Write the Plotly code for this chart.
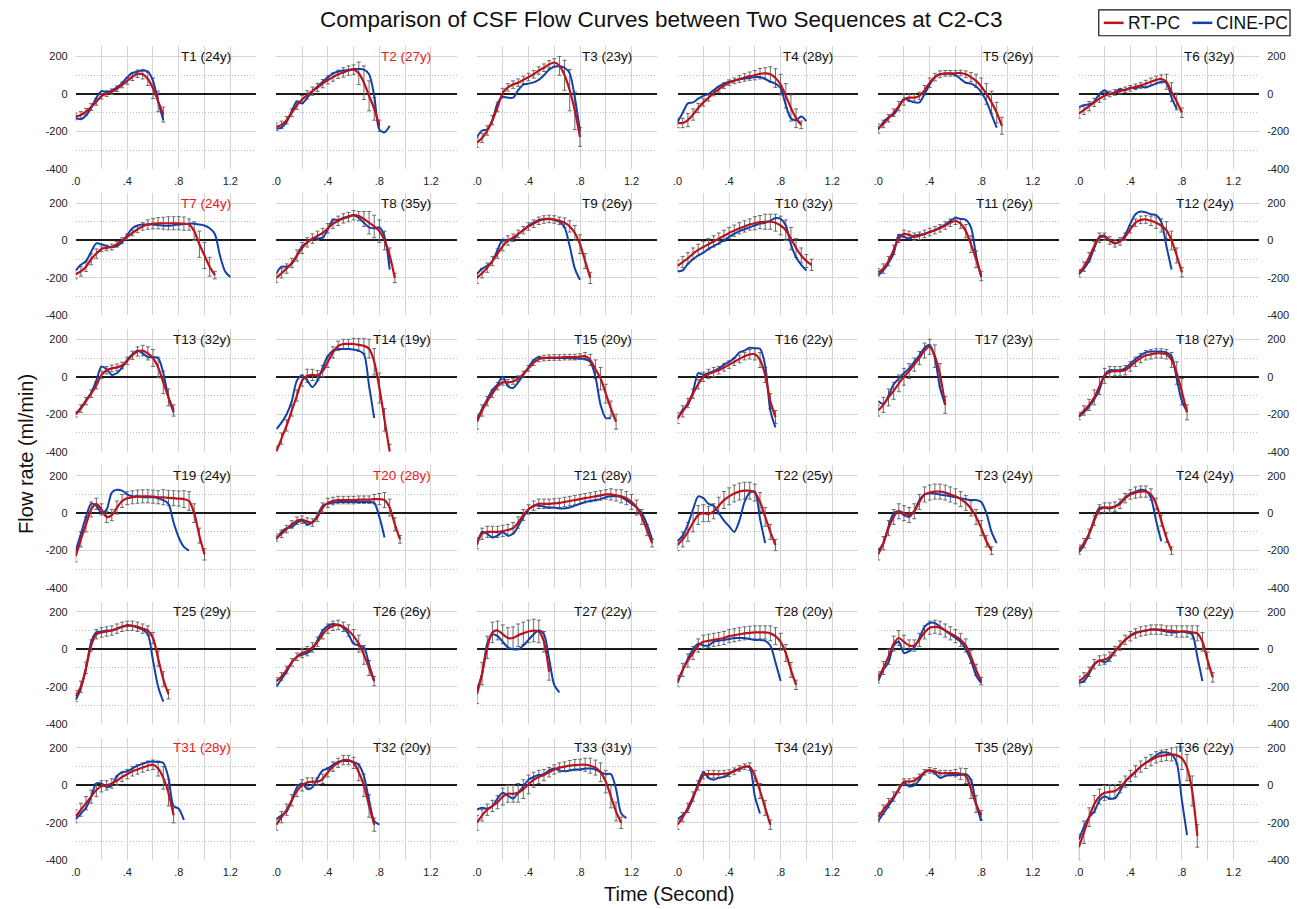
import plotly.graph_objects as go

# ---------------- data ----------------
TIME = [0.00, 0.04, 0.08, 0.12, 0.16, 0.20, 0.24, 0.28, 0.32, 0.36, 0.40, 0.44,
        0.48, 0.52, 0.56, 0.60, 0.64, 0.68, 0.72, 0.76, 0.80, 0.84, 0.88, 0.92,
        0.96, 1.00, 1.04, 1.08, 1.12, 1.16, 1.20, 1.24, 1.28, 1.32, 1.36, 1.40]

SUBJECTS = ["T%d" % k for k in range(1, 37)]
AGES = [24, 27, 23, 28, 26, 32, 24, 35, 26, 32, 26, 24, 32, 19, 20, 22, 23, 27,
        24, 28, 28, 25, 24, 24, 29, 26, 22, 20, 28, 22, 28, 20, 31, 21, 28, 22]
HIGHLIGHT = ["T2", "T7", "T20", "T31"]
SERIES = ["RT-PC", "CINE-PC"]

X_TICKS = [0.0, 0.2, 0.4, 0.6, 0.8, 1.0, 1.2, 1.4]
X_TICKTEXT = [".0", "", ".4", "", ".8", "", "1.2", ""]
Y_TICKS = [-400, -200, 0, 200]
Y_TICKTEXT = ["-400", "-200", "0", "200"]
Y_MINOR = [-300, -100, 100]

RT_PC_MEAN = [
    [-120, -112, -95, -70, -42, -12, 2, 12, 28, 48, 70, 92, 108, 105, 80, 30, -40, -110],
    [-175, -165, -140, -100, -60, -30, -5, 15, 35, 55, 75, 90, 105, 115, 125, 130, 110, 60, -10, -80, -170],
    [-260, -235, -195, -140, -70, 5, 35, 50, 60, 75, 90, 105, 125, 140, 158, 168, 150, 100, 20, -90, -230],
    [-155, -155, -140, -110, -75, -45, -20, 5, 25, 45, 60, 70, 80, 88, 95, 100, 108, 110, 105, 85, 50, -10, -75, -130, -165],
    [-185, -160, -130, -100, -65, -30, -20, -20, -10, 20, 60, 90, 105, 110, 110, 110, 112, 105, 90, 70, 40, 0, -45, -100, -170],
    [-105, -85, -65, -45, -25, -10, 0, 8, 15, 22, 30, 38, 45, 55, 65, 75, 80, 65, 10, -40, -100],
    [-180, -165, -140, -100, -70, -45, -40, -35, -20, 0, 20, 40, 60, 75, 85, 90, 92, 92, 92, 92, 92, 90, 85, 50, -20, -80, -140, -185],
    [-200, -175, -150, -120, -80, -40, -10, 10, 25, 40, 65, 90, 105, 118, 125, 135, 130, 115, 95, 75, 50, 0, -80, -200],
    [-200, -175, -145, -110, -70, -30, 0, 15, 35, 55, 75, 90, 105, 112, 115, 112, 105, 95, 75, 40, -20, -110, -200],
    [-135, -115, -95, -70, -50, -35, -20, -5, 10, 25, 40, 52, 65, 75, 85, 92, 98, 100, 100, 95, 80, 55, 10, -40, -80, -110, -130],
    [-170, -150, -110, -50, 10, 35, 30, 20, 25, 35, 45, 55, 65, 80, 95, 105, 90, 50, -20, -100, -190],
    [-175, -140, -90, -30, 15, 20, 0, -15, -5, 20, 60, 95, 110, 112, 105, 95, 80, 55, 0, -80, -170],
    [-200, -170, -130, -90, -45, 10, 35, 45, 50, 60, 85, 115, 135, 140, 125, 100, 50, -30, -110, -180],
    [-400, -330, -260, -180, -100, -20, 5, 10, 8, 30, 80, 130, 165, 175, 175, 175, 170, 165, 150, 80, -60, -230, -400],
    [-240, -180, -130, -90, -50, -30, -30, -25, -10, 15, 45, 75, 95, 100, 102, 103, 103, 105, 105, 105, 108, 110, 90, 40, -10, -90, -170, -240],
    [-220, -185, -140, -90, -40, 0, 15, 25, 35, 50, 65, 80, 95, 110, 120, 120, 90, 10, -130, -215],
    [-180, -150, -110, -75, -35, 0, 30, 65, 100, 140, 160, 110, 10, -150],
    [-210, -180, -150, -110, -50, 5, 25, 30, 30, 35, 55, 80, 100, 115, 120, 125, 125, 120, 90, 20, -80, -190],
    [-230, -140, -60, 20, 50, 20, -20, -10, 30, 65, 80, 85, 88, 90, 90, 88, 85, 85, 82, 80, 78, 75, 65, 0, -120, -220],
    [-130, -110, -85, -60, -40, -35, -45, -50, -20, 30, 55, 65, 70, 70, 70, 70, 72, 72, 72, 75, 75, 70, 30, -60, -140],
    [-160, -110, -100, -100, -100, -95, -90, -80, -50, -10, 20, 40, 50, 50, 50, 52, 55, 60, 65, 70, 75, 80, 85, 90, 95, 100, 100, 95, 90, 80, 60, 30, -20, -90, -160],
    [-170, -140, -100, -50, -10, 0, -5, 10, 40, 70, 90, 105, 115, 120, 120, 110, 60, -20, -100, -170],
    [-220, -160, -80, -20, 10, 0, -10, 10, 60, 100, 110, 115, 115, 110, 100, 90, 75, 55, 25, -20, -80, -150, -200],
    [-195, -160, -110, -40, 20, 30, 30, 35, 50, 80, 100, 110, 115, 115, 100, 50, -40, -130, -200],
    [-250, -200, -100, 20, 80, 90, 95, 100, 110, 120, 125, 125, 120, 110, 100, 60, -50, -160, -240],
    [-170, -145, -110, -70, -40, -20, -10, 10, 40, 80, 110, 125, 130, 120, 100, 70, 30, -30, -100, -170],
    [-240, -130, 10, 90, 100, 80, 60, 60, 75, 85, 95, 100, 95, 40, -120],
    [-170, -110, -60, -20, 20, 40, 45, 50, 55, 60, 70, 75, 80, 85, 88, 90, 90, 90, 85, 70, 40, -20, -110, -190],
    [-150, -100, -40, 30, 60, 40, 20, 20, 50, 90, 115, 120, 115, 100, 85, 70, 50, 20, -40, -110, -170],
    [-170, -150, -120, -80, -60, -55, -40, -10, 20, 50, 70, 85, 95, 100, 105, 105, 105, 100, 100, 95, 95, 95, 90, 85, 40, -60, -150],
    [-165, -130, -95, -60, -25, -5, 0, 10, 25, 45, 60, 75, 85, 95, 105, 110, 90, 40, -40, -160],
    [-210, -170, -130, -80, -30, 0, 15, 20, 20, 35, 70, 100, 120, 135, 135, 120, 70, 0, -110, -210],
    [-200, -160, -130, -110, -90, -60, -45, -45, -40, -20, 5, 30, 45, 55, 70, 85, 95, 100, 105, 108, 110, 110, 105, 95, 70, 20, -60, -140, -200],
    [-210, -170, -120, -60, 0, 55, 60, 60, 60, 62, 65, 75, 90, 100, 100, 50, -30, -120, -210],
    [-170, -130, -95, -60, -20, 20, 20, 25, 45, 70, 80, 75, 65, 65, 65, 65, 62, 50, -20, -100, -160],
    [-330, -250, -170, -100, -60, -40, -35, -30, -10, 20, 50, 75, 100, 120, 135, 150, 158, 162, 165, 160, 145, 95, -30, -270],
]

RT_PC_SD = [
    [18, 18, 18, 18, 18, 15, 15, 15, 15, 15, 18, 20, 20, 25, 35, 55, 55, 40],
    [20, 20, 20, 20, 22, 22, 22, 22, 22, 22, 22, 22, 22, 25, 25, 25, 60, 90, 80, 60, 30],
    [25, 25, 25, 25, 25, 25, 20, 20, 20, 20, 20, 20, 20, 20, 20, 20, 50, 80, 110, 100, 50],
    [25, 25, 35, 30, 25, 20, 18, 15, 15, 15, 15, 15, 18, 20, 22, 25, 28, 30, 40, 50, 55, 65, 70, 50, 20],
    [25, 20, 20, 20, 25, 30, 20, 18, 20, 25, 25, 20, 18, 15, 15, 15, 15, 18, 25, 35, 45, 55, 60, 55, 45],
    [25, 25, 25, 22, 20, 18, 15, 15, 15, 15, 15, 15, 15, 18, 20, 20, 22, 40, 50, 45, 25],
    [25, 25, 25, 30, 25, 15, 15, 15, 15, 15, 15, 15, 18, 20, 25, 28, 30, 32, 35, 35, 35, 35, 30, 50, 70, 70, 50, 20],
    [25, 25, 25, 25, 30, 30, 25, 25, 25, 25, 25, 25, 25, 25, 25, 25, 25, 40, 60, 60, 60, 50, 40, 25],
    [30, 25, 25, 25, 25, 25, 25, 20, 20, 20, 20, 20, 20, 20, 20, 20, 20, 25, 30, 40, 50, 40, 30],
    [30, 30, 30, 30, 30, 30, 30, 30, 30, 30, 30, 30, 30, 30, 30, 35, 35, 40, 40, 45, 50, 55, 60, 50, 40, 35, 30],
    [20, 25, 25, 25, 20, 20, 20, 20, 20, 20, 20, 20, 20, 20, 20, 20, 25, 35, 45, 45, 25],
    [20, 25, 25, 25, 25, 20, 20, 20, 20, 20, 20, 20, 20, 20, 25, 30, 35, 45, 50, 40, 25],
    [15, 20, 20, 20, 20, 20, 20, 18, 18, 18, 20, 22, 25, 28, 35, 45, 55, 60, 45, 30],
    [30, 30, 30, 30, 30, 30, 35, 30, 25, 30, 30, 30, 25, 25, 25, 30, 35, 40, 50, 70, 80, 60, 40],
    [40, 30, 25, 20, 20, 15, 15, 15, 15, 15, 15, 15, 15, 15, 15, 15, 15, 15, 15, 15, 15, 20, 30, 50, 60, 50, 40, 40],
    [30, 30, 25, 25, 25, 25, 25, 25, 20, 20, 20, 20, 20, 20, 25, 30, 40, 40, 40, 35],
    [30, 40, 45, 45, 45, 45, 40, 35, 35, 40, 40, 60, 60, 45],
    [20, 25, 30, 40, 45, 40, 30, 25, 25, 25, 25, 25, 25, 25, 25, 25, 25, 25, 40, 60, 70, 40],
    [30, 40, 40, 40, 30, 30, 30, 30, 35, 35, 35, 35, 35, 35, 35, 35, 35, 40, 40, 40, 40, 45, 50, 50, 40, 30],
    [20, 20, 20, 20, 20, 20, 20, 20, 25, 25, 25, 20, 20, 20, 20, 20, 20, 20, 20, 25, 30, 40, 45, 35, 20],
    [30, 30, 30, 30, 30, 30, 30, 30, 30, 30, 25, 25, 25, 25, 25, 25, 25, 25, 25, 25, 25, 25, 25, 25, 25, 25, 30, 30, 35, 35, 40, 40, 40, 30, 20],
    [30, 40, 50, 50, 50, 45, 40, 40, 45, 45, 45, 45, 45, 45, 45, 45, 50, 50, 40, 30],
    [30, 35, 40, 40, 40, 40, 40, 40, 40, 40, 40, 40, 40, 40, 40, 40, 40, 40, 40, 40, 40, 30, 20],
    [25, 25, 25, 25, 25, 25, 25, 25, 25, 25, 25, 30, 30, 30, 30, 30, 30, 25, 20],
    [30, 30, 30, 30, 25, 25, 25, 25, 25, 25, 25, 25, 25, 25, 25, 30, 40, 40, 25],
    [20, 20, 20, 20, 20, 25, 25, 25, 25, 25, 25, 25, 25, 25, 30, 35, 45, 50, 40, 25],
    [50, 60, 60, 55, 50, 50, 55, 60, 60, 60, 60, 60, 60, 55, 45],
    [30, 35, 35, 35, 35, 35, 35, 35, 35, 35, 35, 35, 35, 35, 35, 35, 35, 35, 40, 45, 45, 45, 40, 25],
    [30, 35, 40, 40, 40, 35, 30, 30, 35, 35, 35, 35, 35, 35, 35, 35, 35, 35, 35, 30, 20],
    [25, 25, 25, 25, 25, 25, 25, 25, 25, 25, 25, 25, 25, 25, 25, 25, 25, 25, 25, 30, 30, 30, 35, 40, 50, 45, 25],
    [35, 35, 35, 35, 35, 30, 25, 25, 25, 25, 25, 25, 25, 25, 25, 25, 40, 60, 70, 40],
    [30, 30, 30, 30, 30, 30, 25, 20, 20, 25, 25, 25, 25, 25, 25, 30, 45, 60, 60, 35],
    [40, 30, 30, 30, 35, 45, 45, 45, 50, 50, 50, 40, 35, 30, 25, 25, 25, 25, 28, 30, 30, 35, 40, 40, 50, 60, 60, 50, 30],
    [25, 25, 25, 25, 25, 20, 20, 20, 18, 18, 18, 18, 15, 15, 20, 30, 40, 40, 25],
    [25, 25, 25, 25, 20, 15, 15, 15, 15, 15, 15, 15, 15, 15, 15, 20, 30, 40, 50, 45, 25],
    [70, 60, 50, 45, 40, 40, 40, 35, 30, 30, 30, 30, 30, 30, 30, 30, 30, 30, 35, 45, 60, 70, 80, 60],
]

CINE_PC = [
    [-128, -135, -115, -75, -20, 15, 10, 18, 35, 58, 90, 112, 120, 125, 120, 70, -40, -140],
    [-185, -180, -150, -90, -40, -50, -20, 15, 40, 65, 90, 110, 120, 125, 128, 133, 133, 130, 105, -10, -190, -205, -170],
    [-230, -195, -190, -140, -50, -15, -20, -20, 20, 50, 55, 62, 75, 100, 130, 145, 148, 140, 110, -20, -200],
    [-150, -100, -50, -45, -25, -10, 0, 20, 40, 55, 65, 72, 78, 82, 85, 90, 90, 80, 65, 55, 30, -60, -130, -140, -120, -145],
    [-190, -150, -125, -110, -70, -25, -35, -45, -45, 0, 50, 90, 105, 108, 108, 100, 80, 60, 55, 40, 10, -40, -110, -180],
    [-70, -60, -55, -40, 0, 20, 0, 10, 25, 20, 35, 30, 40, 35, 45, 55, 65, 60, -20, -80],
    [-160, -130, -110, -60, -15, -20, -30, -35, -30, -10, 30, 65, 80, 85, 85, 85, 82, 80, 78, 82, 85, 88, 90, 90, 85, 80, 65, 35, -80, -165, -195],
    [-175, -140, -140, -125, -80, -30, -10, 10, 10, 15, 60, 110, 110, 120, 130, 135, 120, 95, 70, 65, 70, 20, -155],
    [-180, -150, -135, -110, -50, 5, 0, 5, 35, 55, 80, 95, 110, 115, 115, 110, 100, 70, -30, -150, -210],
    [-165, -160, -125, -100, -80, -65, -45, -30, -15, 0, 20, 35, 50, 60, 70, 80, 90, 95, 105, 120, 115, 80, -20, -90, -130, -160],
    [-185, -160, -120, -70, 30, 20, 10, 25, 30, 35, 45, 55, 70, 85, 105, 120, 115, 110, 70, -80, -195],
    [-180, -150, -110, -40, 20, 25, 0, -15, -5, 30, 90, 140, 155, 150, 140, 135, 100, -30, -155],
    [-200, -165, -125, -85, -20, 55, 40, 10, 20, 50, 90, 120, 140, 125, 105, 105, 100, 20, -110, -190],
    [-280, -245, -200, -130, -20, 5, -20, -55, -20, 50, 110, 140, 148, 148, 148, 145, 140, 120, -50, -220],
    [-230, -170, -120, -70, -40, 0, -50, -60, -30, 10, 50, 90, 105, 100, 100, 100, 100, 100, 100, 98, 98, 95, 80, 0, -150, -220, -220],
    [-225, -175, -150, -80, 20, 10, 20, 30, 45, 65, 80, 100, 130, 140, 155, 152, 150, 60, -180, -270],
    [-130, -145, -100, -40, -10, 20, 45, 80, 115, 155, 170, 100, -60, -150],
    [-215, -190, -160, -120, -70, 10, 35, 35, 35, 45, 70, 95, 115, 130, 135, 135, 135, 130, 110, -10, -130, -185],
    [-200, -110, -20, 50, 40, 0, 20, 110, 125, 120, 100, 90, 90, 85, 85, 85, 80, 70, 50, -50, -130, -180, -200],
    [-140, -100, -80, -75, -50, -40, -60, -50, -10, 40, 50, 55, 60, 60, 60, 60, 60, 60, 60, 55, -20, -130],
    [-170, -100, -110, -130, -120, -100, -120, -110, -70, -20, 20, 40, 40, 35, 30, 30, 25, 25, 30, 40, 50, 60, 65, 70, 75, 85, 90, 90, 85, 70, 50, 30, 0, -60, -140],
    [-150, -120, -60, 20, 90, 80, 50, 40, 0, -40, -70, -100, -40, 60, 110, 115, -30, -160],
    [-200, -160, -70, 0, 10, -10, -20, 10, 70, 100, 105, 105, 100, 95, 90, 85, 80, 75, 70, 70, 60, 0, -100, -160],
    [-210, -170, -110, -30, 30, 30, 25, 35, 55, 85, 105, 115, 125, 120, 80, -40, -150],
    [-270, -210, -100, 40, 90, 95, 100, 100, 110, 120, 130, 125, 115, 105, 80, -60, -200, -280],
    [-200, -160, -120, -70, -40, -30, -20, 0, 50, 100, 125, 135, 130, 115, 80, 30, 20, 10, -80, -170],
    [-220, -130, 30, 80, 70, 40, 10, 0, 0, 20, 50, 80, 100, 80, -50, -190, -230],
    [-180, -110, -50, 0, 30, 20, 20, 40, 45, 50, 55, 60, 60, 60, 55, 50, 50, 45, 20, -70, -170],
    [-170, -110, -70, 20, 40, -20, -10, 10, 60, 120, 140, 140, 120, 100, 80, 60, 40, 0, -60, -140, -180],
    [-180, -170, -130, -80, -60, -70, -50, -10, 20, 50, 75, 90, 95, 100, 105, 105, 100, 95, 90, 90, 95, 90, 80, -40, -170],
    [-180, -150, -120, -60, 10, 10, -10, 0, 50, 70, 75, 90, 105, 115, 125, 128, 125, 120, 40, -110, -125, -185],
    [-180, -160, -140, -80, -10, 10, -20, -10, 40, 80, 90, 110, 125, 130, 130, 125, 110, 50, -80, -190, -210],
    [-130, -120, -125, -110, -70, -40, -55, -70, -40, -5, 30, 45, 55, 60, 80, 90, 80, 75, 80, 85, 85, 90, 90, 85, 70, 60, 60, -20, -150, -175],
    [-180, -160, -130, -70, 10, 70, 40, 30, 40, 45, 60, 80, 85, 100, 95, -60, -150],
    [-190, -150, -110, -70, -20, 15, -5, 0, 30, 70, 80, 65, 40, 50, 55, 55, 55, 60, 30, -100, -190],
    [-290, -220, -170, -140, -80, -60, -70, -70, -30, 20, 45, 70, 100, 120, 140, 160, 175, 175, 165, 120, -80, -265],
]

# ---------------- style / layout ----------------
W, H = 1298, 909
FONT = "Liberation Sans, Arial, Helvetica, sans-serif"
RED = "#be121b"
BLUE = "#1341a8"
TITLE_RED = "#e8191f"
GRID = "#d4d4d4"

COL_X0 = 71.0
COL_PITCH = 201.4
PLOT_W = 181.0
ROW_BOTTOM = [170.0, 317.5, 454.7, 592.0, 729.0, 866.0]
PLOT_H = 123.5

fig = go.Figure()
layout = {}
annotations = []
shapes = []

for i in range(36):
    r, c = divmod(i, 6)
    n = i + 1
    xa = "x" if n == 1 else "x%d" % n
    ya = "y" if n == 1 else "y%d" % n
    red = RT_PC_MEAN[i]
    sd = RT_PC_SD[i]
    blue = CINE_PC[i]
    tr = TIME[:len(red)]
    tb = TIME[:len(blue)]

    # RT-PC standard deviation bars (beneath the lines)
    fig.add_trace(go.Scatter(
        x=tr, y=red, mode="markers",
        marker=dict(size=2, color="rgba(0,0,0,0)"),
        error_y=dict(type="data", array=sd, visible=True, color="#6a6a6a",
                     thickness=1, width=2),
        xaxis=xa, yaxis=ya, showlegend=False, hoverinfo="skip"))
    fig.add_trace(go.Scatter(
        x=tb, y=blue, mode="lines", name=SERIES[1],
        line=dict(color=BLUE, width=2, shape="spline", smoothing=0.8),
        xaxis=xa, yaxis=ya, showlegend=False))
    fig.add_trace(go.Scatter(
        x=tr, y=red, mode="lines", name=SERIES[0],
        line=dict(color=RED, width=2.2, shape="spline", smoothing=0.8),
        xaxis=xa, yaxis=ya, showlegend=False))

    x0 = COL_X0 + c * COL_PITCH
    ybot = ROW_BOTTOM[r]
    xkey = "xaxis" if n == 1 else "xaxis%d" % n
    ykey = "yaxis" if n == 1 else "yaxis%d" % n
    layout[xkey] = dict(
        domain=[x0 / W, (x0 + PLOT_W) / W], anchor=ya, range=[0, 1.4],
        tickmode="array", tickvals=X_TICKS, ticktext=X_TICKTEXT,
        showticklabels=(r in (0, 5)), ticks="", ticklabelstandoff=4,
        showgrid=True, gridcolor=GRID, gridwidth=1,
        zeroline=False, showline=False, fixedrange=True,
        tickfont=dict(family=FONT, size=11, color="#222"))
    layout[ykey] = dict(
        domain=[1 - ybot / H, 1 - (ybot - PLOT_H) / H], anchor=xa,
        range=[-400, 255], tickmode="array", tickvals=Y_TICKS,
        ticktext=Y_TICKTEXT, showticklabels=(c in (0, 5)),
        side=("right" if c == 5 else "left"), ticks="", ticklabelstandoff=7,
        showgrid=True, gridcolor=GRID, gridwidth=1,
        zeroline=True, zerolinecolor="#1a1a1a", zerolinewidth=1.6,
        showline=False, fixedrange=True,
        minor=dict(tickmode="array", tickvals=Y_MINOR, showgrid=True,
                   gridcolor="#bdbdbd", griddash="1px,2px", gridwidth=1,
                   ticks=""),
        tickfont=dict(family=FONT, size=11, color="#222"))

    label = "%s (%dy)" % (SUBJECTS[i], AGES[i])
    annotations.append(dict(
        text=label, x=1.22, y=200, xref=xa, yref=ya,
        xanchor="right", yanchor="middle", showarrow=False,
        font=dict(family=FONT, size=13.5,
                  color=(TITLE_RED if SUBJECTS[i] in HIGHLIGHT else "#111"))))

annotations.append(dict(
    text="Comparison of CSF Flow Curves between Two Sequences at C2-C3",
    x=659 / W, y=1 - 20 / H, xref="paper", yref="paper",
    xanchor="center", yanchor="middle", showarrow=False,
    font=dict(family=FONT, size=22.5, color="#111")))
annotations.append(dict(
    text="Time (Second)", x=667 / W, y=1 - 900 / H, xref="paper", yref="paper",
    xanchor="center", yanchor="middle", showarrow=False,
    font=dict(family=FONT, size=20, color="#111")))
annotations.append(dict(
    text="Flow rate (ml/min)", x=21 / W, y=1 - 457 / H, xref="paper",
    yref="paper", xanchor="center", yanchor="middle", showarrow=False,
    textangle=-90, font=dict(family=FONT, size=20, color="#111")))

# legend box (top-right), drawn in paper coordinates
LEG_Y = 1 - 23 / H
shapes.append(dict(type="rect", xref="paper", yref="paper",
                   x0=1098 / W, x1=1290 / W, y0=1 - 36 / H, y1=1 - 10 / H,
                   line=dict(color="#111", width=1.2), fillcolor="white"))
shapes.append(dict(type="line", xref="paper", yref="paper",
                   x0=1103 / W, x1=1123 / W, y0=LEG_Y, y1=LEG_Y,
                   line=dict(color=RED, width=2.5)))
shapes.append(dict(type="line", xref="paper", yref="paper",
                   x0=1192 / W, x1=1212 / W, y0=LEG_Y, y1=LEG_Y,
                   line=dict(color=BLUE, width=2.5)))
annotations.append(dict(
    text=SERIES[0], x=1125 / W, y=LEG_Y, xref="paper", yref="paper",
    xanchor="left", yanchor="middle", showarrow=False,
    font=dict(family=FONT, size=17.5, color="#111")))
annotations.append(dict(
    text=SERIES[1], x=1214 / W, y=LEG_Y, xref="paper", yref="paper",
    xanchor="left", yanchor="middle", showarrow=False,
    font=dict(family=FONT, size=17.5, color="#111")))

fig.update_layout(
    autosize=True,
    margin=dict(l=0, r=0, t=0, b=0, pad=0),
    paper_bgcolor="white", plot_bgcolor="white",
    font=dict(family=FONT, color="#111"),
    annotations=annotations, shapes=shapes,
    showlegend=False,
    **layout)

fig.write_html(
    "out.html",
    default_width="100vw", default_height="100vh",
    config={"displayModeBar": False, "responsive": True},
    post_script="document.body.style.margin='0px';"
                "document.body.style.overflow='hidden';")
